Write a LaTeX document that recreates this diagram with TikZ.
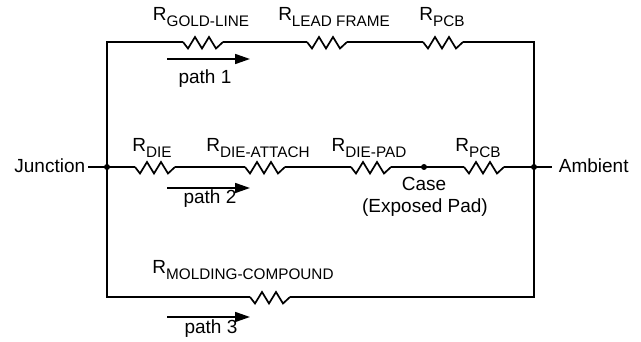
\documentclass[tikz,border=0pt]{standalone}
\usepackage{fontspec}
\setmainfont{Liberation Sans}
\usetikzlibrary{arrows.meta}

\newcommand{\Rlab}[1]{R\raisebox{-6pt}{\fontsize{15.3}{15}\selectfont #1}}

\tikzset{
  res/.pic={
    \draw (-20,0) -- (-15,6.5) -- (-8,-5) -- (-1,6.5) -- (6,-5) -- (13,6.5) -- (20,0);
    \coordinate (-w) at (-20,0);
    \coordinate (-e) at (20,0);
  },
  lab/.style={anchor=base,inner sep=0pt},
  flow/.style={-{Triangle[length=15pt,width=10pt]}},
  dot/.style={circle,fill,inner sep=0pt,minimum size=6pt}
}

\begin{document}
\begin{tikzpicture}[x=1pt,y=-1pt,line width=1.7pt,font=\fontsize{19}{21}\selectfont]
  \useasboundingbox (0,0) rectangle (641,342);
  % end points
  \node[anchor=base east,inner sep=0pt] (junctxt) at (86,173) {Junction};
  \node[anchor=base west,inner sep=0pt] (ambtxt) at (558,173) {Ambient};
  \coordinate (jin) at (88,167);
  \coordinate (aout) at (552,167);
  \node[dot] (j) at (107,167) {};
  \node[dot] (a) at (534,167) {};
  \node[dot] (case) at (424,167) {};
  % path 1
  \pic (rg) at (203,42) {res};
  \pic (rl) at (327,42) {res};
  \pic (rp1) at (443,42) {res};
  \node[lab] (lg) at (201,21) {\Rlab{GOLD-LINE}};
  \node[lab] (ll) at (334,21) {\Rlab{LEAD FRAME}};
  \node[lab] (lp1) at (442,21) {\Rlab{PCB}};
  \draw (j.center) |- (rg-w);
  \draw (rg-e) -- (rl-w);
  \draw (rl-e) -- (rp1-w);
  \draw (rp1-e) -| (a.center);
  % path 2
  \pic (rd) at (155,167) {res};
  \pic (rda) at (265,167) {res};
  \pic (rdp) at (371,167) {res};
  \pic (rp2) at (484,167) {res};
  \node[lab] (ld) at (152,152) {\Rlab{DIE}};
  \node[lab] (lda) at (258,152) {\Rlab{DIE-ATTACH}};
  \node[lab] (ldp) at (369,152) {\Rlab{DIE-PAD}};
  \node[lab] (lp2) at (478,152) {\Rlab{PCB}};
  \draw (jin) -- (j.center) -- (rd-w);
  \draw (rd-e) -- (rda-w);
  \draw (rda-e) -- (rdp-w);
  \draw (rdp-e) -- (case.center) -- (rp2-w);
  \draw (rp2-e) -- (a.center) -- (aout);
  \node[lab] (casetxt) at (424,191) {Case};
  \node[lab] (padtxt) at (425,213) {(Exposed Pad)};
  % path 3
  \pic (rm) at (270,297) {res};
  \node[lab] (lm) at (243,274) {\Rlab{MOLDING-COMPOUND}};
  \draw (j.center) |- (rm-w);
  \draw (rm-e) -| (a.center);
  % flow arrows
  \coordinate (f1s) at (167,59);  \coordinate (f1e) at (250,59);
  \coordinate (f2s) at (167,188); \coordinate (f2e) at (250,188);
  \coordinate (f3s) at (167,317); \coordinate (f3e) at (250,317);
  \draw[flow] (f1s) -- (f1e);
  \draw[flow] (f2s) -- (f2e);
  \draw[flow] (f3s) -- (f3e);
  \node[lab] (t1) at (205,84) {path 1};
  \node[lab] (t2) at (210,204) {path 2};
  \node[lab] (t3) at (211,334) {path 3};
\end{tikzpicture}
\end{document}
